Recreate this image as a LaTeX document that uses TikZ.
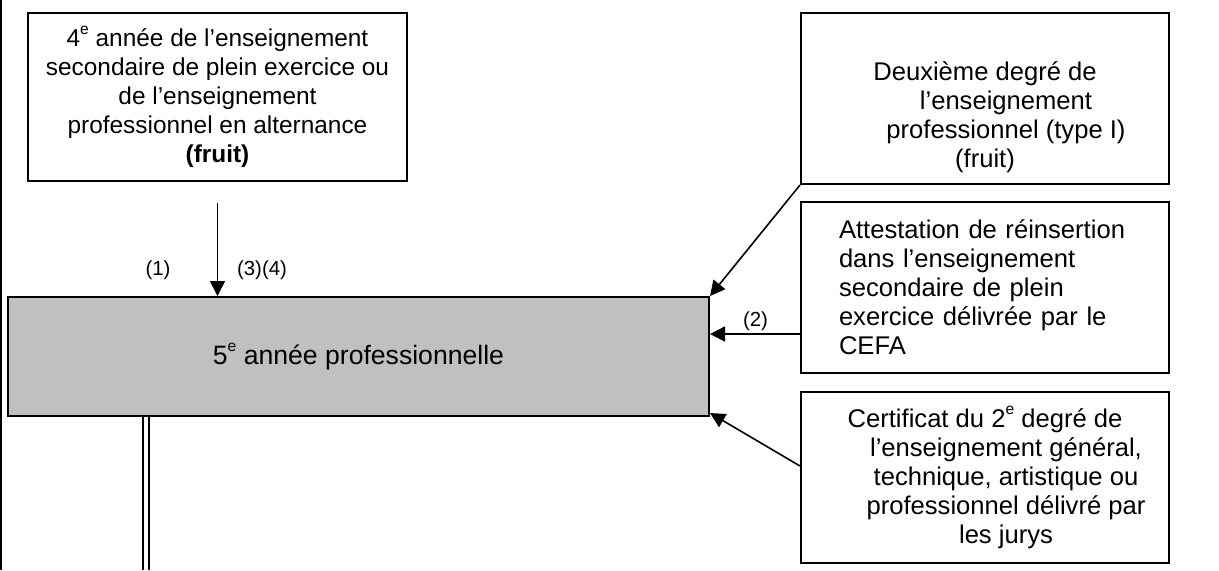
\documentclass[tikz,border=0pt]{standalone}
\usepackage{fontspec}
\setmainfont{Liberation Sans}
\usepackage{tikz}
\usetikzlibrary{arrows.meta,positioning}
\definecolor{silverfill}{RGB}{192,192,192}
\newcommand{\expo}[1]{\raisebox{.5em}{\fontsize{7.8}{8}\selectfont #1}}

\begin{document}
\begin{tikzpicture}[x=.5pt,y=-.5pt,
    box/.style={draw, line width=1pt, inner sep=0pt, font=\fontsize{12.8}{14.5}\selectfont},
    greybox/.style={box, fill=silverfill, font=\fontsize{13.3}{15}\selectfont},
    arr/.style={line width=.8pt, -{Triangle[length=7.5pt,width=7.5pt]}},
    numlbl/.style={inner sep=0pt, font=\fontsize{10.2}{12}\selectfont}]
            \useasboundingbox (0,0) rectangle (1219,570);
            \draw[line width=1pt] (1,0) -- (1,570); %left margin rule

            % left column
            \node[box, minimum width=189.5pt, minimum height=84pt, align=center, font=\fontsize{12.2}{14.5}\selectfont] (quatre) at (217.5,97)
              {4\expo{e} année de l’enseignement\\ secondaire de plein exercice ou\\ de l’enseignement\\ professionnel en alternance\\ \textbf{(fruit)}};
            \node[greybox, minimum width=350.5pt, minimum height=59.5pt] (cinq) at (358.5,356.5)
              {5\expo{e} année professionnelle};

            % right column
            \node[box, minimum width=184pt, minimum height=85.5pt] (deux) at (985,98.5) {};
            \node[inner sep=0pt, align=center, font=\fontsize{12.8}{14.5}\selectfont] (deuxtxt) at ([yshift=-9.5pt]deux.center)
              {Deuxième degré de\\ \hspace*{21pt}l’enseignement\\ \hspace*{21pt}professionnel (type I)\\ (fruit)};
            \node[box, minimum width=184pt, minimum height=85.5pt, text width=146pt, inner xsep=19pt, align=left] (attest) at (985,287.5)
              {Attestation de réinsertion\\ dans l’enseignement\\ secondaire de plein\\ exercice délivrée par le\\ CEFA};
            \node[box, minimum width=184pt, minimum height=85.5pt, align=center] (certif) at (985,477.5)
              {Certificat du 2\expo{e} degré de\\ \hspace*{21pt}l’enseignement général,\\ \hspace*{21pt}technique, artistique ou\\ \hspace*{21pt}professionnel délivré par\\ \hspace*{21pt}les jurys};

            % arrows into the grey box
            \coordinate (haut) at ([yshift=-10.5pt]quatre.south);
            \draw[arr] (haut) -- (haut |- cinq.north);
            \node[numlbl] (n1) at (158,270) {(1)};
            \node[numlbl] (n34) at (262,270) {(3)(4)};
            \draw[arr] (deux.south west) -- (cinq.north east);
            \coordinate (milieu) at (801,334);
            \draw[arr] (milieu) -- (milieu -| cinq.east) node[numlbl, midway, above=1pt] (n2) {(2)};
            \draw[arr] ([yshift=5.75pt]certif.west) -- ([yshift=2pt]cinq.south east);

            % way out below
            \coordinate (bas) at (146,570);
            \draw[line width=1pt, double, double distance=1.6pt] (bas |- cinq.south) -- (bas);
          \end{tikzpicture}
\end{document}
